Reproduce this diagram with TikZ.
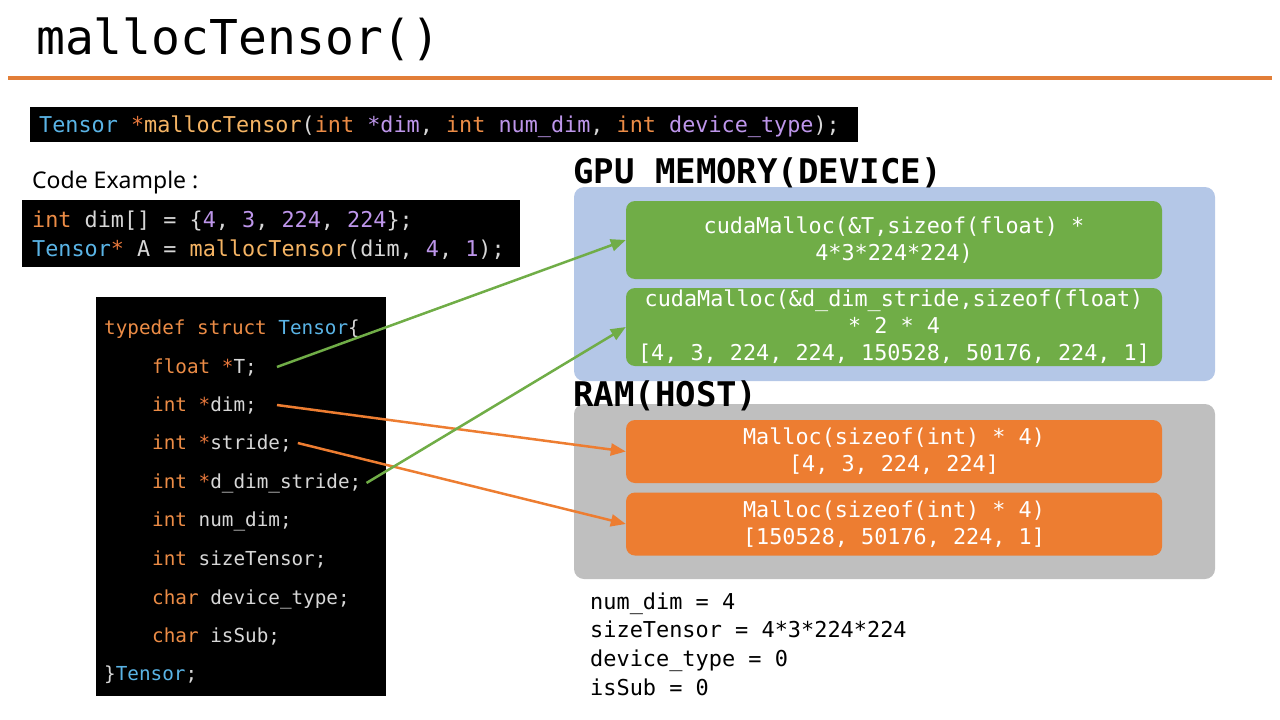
\documentclass[tikz,border=0pt]{standalone}
\usepackage{fontspec}
\setmonofont{DejaVu Sans Mono}
\setsansfont{Noto Sans}
\usetikzlibrary{arrows.meta,positioning}

\definecolor{kword}{RGB}{236,140,70}
\definecolor{kptr}{RGB}{232,120,60}
\definecolor{ktype}{RGB}{90,180,230}
\definecolor{kvar}{RGB}{190,150,235}
\definecolor{kfunc}{RGB}{245,180,100}
\definecolor{kplain}{RGB}{215,215,215}
\definecolor{gpufill}{RGB}{180,199,231}
\definecolor{ramfill}{RGB}{191,191,191}
\definecolor{gpugreen}{RGB}{112,173,71}
\definecolor{ramorange}{RGB}{237,125,49}
\definecolor{titlerule}{RGB}{226,126,56}

\newcommand{\ckw}[1]{\textcolor{kword}{#1}}
\newcommand{\cptr}[1]{\textcolor{kptr}{#1}}
\newcommand{\cty}[1]{\textcolor{ktype}{#1}}
\newcommand{\cvar}[1]{\textcolor{kvar}{#1}}
\newcommand{\cfn}[1]{\textcolor{kfunc}{#1}}

\tikzset{
  codeln/.style={anchor=base west, inner sep=0pt, text=kplain,
    font=\ttfamily\fontsize{19.3}{23}\selectfont},
  sigln/.style={anchor=base west, inner sep=0pt, text=kplain,
    font=\ttfamily\fontsize{21.8}{26}\selectfont},
  valln/.style={anchor=base west, inner sep=0pt, text=black,
    font=\ttfamily\fontsize{21.9}{26}\selectfont},
  memlbl/.style={anchor=base west, inner sep=0pt,
    font=\ttfamily\bfseries\fontsize{34}{40}\selectfont},
  region/.style={rounded corners=10pt, inner sep=0pt, minimum width=641pt},
  memblk/.style={rounded corners=9pt, inner sep=0pt, minimum width=536pt,
    text=white, align=center, font=\ttfamily\fontsize{21.8}{27}\selectfont},
  gpublk/.style={memblk, fill=gpugreen, minimum height=78pt},
  ramblk/.style={memblk, fill=ramorange, minimum height=63pt},
  ptrgreen/.style={draw=gpugreen, line width=2.5pt, -{Triangle[length=15pt,width=12pt]}},
  ptrorange/.style={draw=ramorange, line width=2.5pt, -{Triangle[length=15pt,width=12pt]}},
}

\begin{document}
\begin{tikzpicture}[x=1pt,y=-1pt]
  \useasboundingbox (0,0) rectangle (1280,720);

  % title
  \node[anchor=base west, inner sep=0pt, font=\ttfamily\fontsize{48}{58}\selectfont]
    (title) at (36,54) {mallocTensor()};
  \draw[titlerule, line width=3.5pt] (8,78) -- (1272,78);

  % signature
  \fill[black] (30,107) rectangle (858,142);
  \node[sigln] (sig) at (39,132) {\cty{Tensor} \cptr{*}\cfn{mallocTensor}(\ckw{int} \cvar{*dim}, \ckw{int} \cvar{num\_dim}, \ckw{int} \cvar{device\_type});};

  % example
  \node[anchor=base west, inner sep=0pt, font=\sffamily\fontsize{23}{27}\selectfont]
    (exlbl) at (32,188) {Code Example :};
  \fill[black] (22,200) rectangle (520,267);
  \node[sigln] (ex1) at (32,227) {\ckw{int} dim[] = \{\cvar{4}, \cvar{3}, \cvar{224}, \cvar{224}\};};
  \node[sigln] (ex2) at (32,256) {\cty{Tensor}\cptr{*} A = \cfn{mallocTensor}(dim, \cvar{4}, \cvar{1});};

  % struct
  \fill[black] (96,297) rectangle (386,696);
  \node[codeln] (lnHead) at (104,334) {\ckw{typedef struct} \cty{Tensor}\{};
  \node[codeln] (lnT) at (152,373) {\ckw{float} \cptr{*}T;};
  \node[codeln] (lnDim) at (152,411) {\ckw{int} \cptr{*}dim;};
  \node[codeln] (lnStride) at (152,449) {\ckw{int} \cptr{*}stride;};
  \node[codeln] (lnDS) at (152,488) {\ckw{int} \cptr{*}d\_dim\_stride;};
  \node[codeln] (lnNum) at (152,526) {\ckw{int} num\_dim;};
  \node[codeln] (lnSize) at (152,565) {\ckw{int} sizeTensor;};
  \node[codeln] (lnDev) at (152,604) {\ckw{char} device\_type;};
  \node[codeln] (lnSub) at (152,642) {\ckw{char} isSub;};
  \node[codeln] (lnTail) at (104,680) {\}\cty{Tensor};};

  % gpu memory
  \node[region, fill=gpufill, minimum height=194pt] (gpu) at (894.5,284) {};
  \node[memlbl] (gpulbl) at (573,183) {GPU MEMORY(DEVICE)};
  \node[gpublk] (gpuT) at (894,240) {cudaMalloc(\&T,sizeof(float) *\\4*3*224*224)};
  \node[gpublk] (gpuDS) at (894,327) {cudaMalloc(\&d\_dim\_stride,sizeof(float)\\* 2 * 4\\{[}4, 3, 224, 224, 150528, 50176, 224, 1{]}};

  % ram
  \node[region, fill=ramfill, minimum height=175pt] (ram) at (894.5,491.5) {};
  \node[memlbl] (ramlbl) at (573,406) {RAM(HOST)};
  \node[ramblk] (ramDim) at (894,451.5) {Malloc(sizeof(int) * 4)\\{[}4, 3, 224, 224{]}};
  \node[ramblk] (ramStride) at (894,524) {Malloc(sizeof(int) * 4)\\{[}150528, 50176, 224, 1{]}};

  % scalar members
  \node[valln] (vNum) at (590,609) {num\_dim = 4};
  \node[valln] (vSize) at (590,637) {sizeTensor = 4*3*224*224};
  \node[valln] (vDev) at (590,666) {device\_type = 0};
  \node[valln] (vSub) at (590,695) {isSub = 0};

  % pointers
  \draw[ptrgreen] ([xshift=20pt]lnT.east) -- (gpuT.west);
  \draw[ptrorange] ([xshift=20pt]lnDim.east) -- (ramDim.west);
  \draw[ptrorange] ([xshift=6pt]lnStride.east) -- (ramStride.west);
  \draw[ptrgreen] ([xshift=5pt]lnDS.east) -- (gpuDS.west);
\end{tikzpicture}
\end{document}
